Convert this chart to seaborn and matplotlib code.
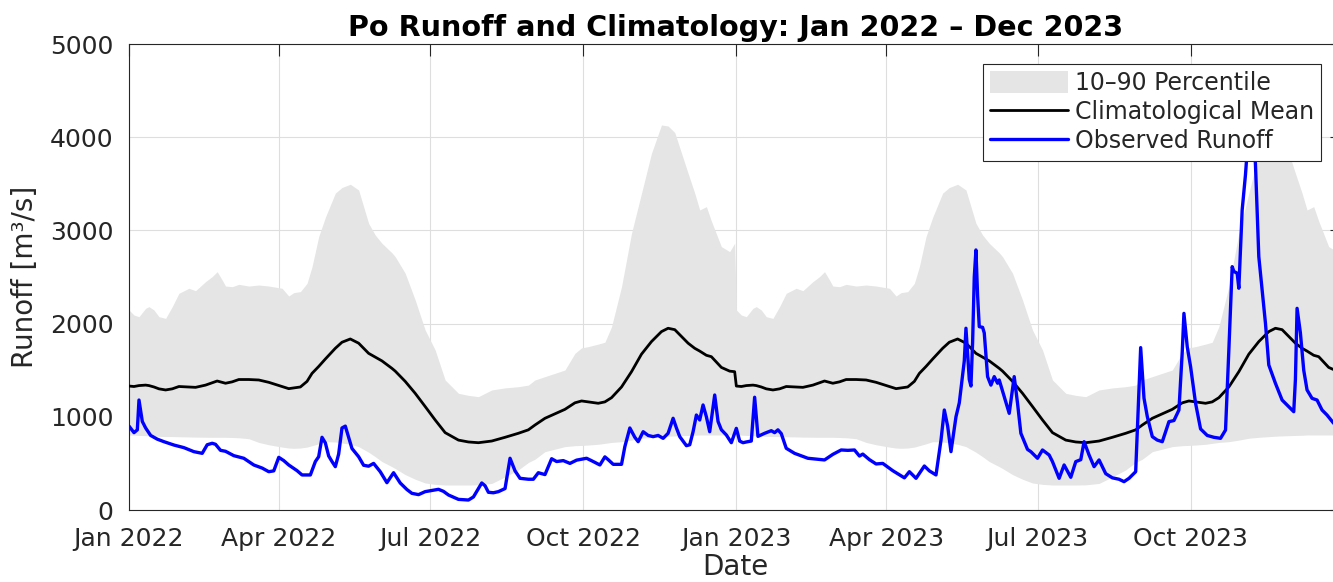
import numpy as np
import pandas as pd
import matplotlib
matplotlib.use("Agg")
import matplotlib.pyplot as plt
import matplotlib.dates as mdates
import seaborn as sns

# ---- climatology (day of year -> mean, 10th and 90th percentile), m^3/s ----
clim_doy = [0, 3, 6, 10, 12, 15, 18, 22, 26, 30, 36, 40, 46, 50, 53, 56, 58, 62, 66,
            72, 78, 84, 92, 96, 99, 103, 107, 110, 114, 118, 124, 128, 133, 138, 144,
            148, 152, 158, 160, 166, 172, 178, 184, 190, 198, 204, 210, 218, 226, 234,
            240, 244, 250, 262, 268, 272, 276, 282, 286, 290, 296, 302, 308, 314, 320,
            324, 328, 336, 340, 343, 347, 350, 356, 361, 364]
clim_mean = [1330, 1325, 1335, 1340, 1335, 1320, 1300, 1288, 1300, 1325, 1320, 1316, 1340,
             1365, 1384, 1370, 1360, 1375, 1400, 1400, 1395, 1370, 1325, 1302, 1310, 1320,
             1380, 1466, 1540, 1620, 1735, 1800, 1835, 1790, 1681, 1640, 1600, 1520, 1490,
             1380, 1252, 1110, 966, 830, 750, 730, 722, 740, 780, 823, 860, 912, 984, 1080,
             1150, 1170, 1160, 1145, 1160, 1205, 1320, 1484, 1672, 1807, 1914, 1950, 1935,
             1790, 1735, 1705, 1660, 1645, 1530, 1490, 1484]
clim_p10 = [805, 803, 800, 798, 797, 795, 790, 788, 788, 786, 784, 782, 781, 780, 780, 780,
            780, 778, 775, 765, 725, 700, 675, 665, 662, 665, 675, 690, 710, 733, 730, 720,
            705, 680, 620, 572, 520, 465, 445, 380, 330, 290, 275, 268, 268, 268, 270, 285,
            355, 430, 510, 545, 626, 680, 690, 693, 697, 705, 715, 725, 733, 750, 770, 780,
            787, 792, 795, 800, 802, 805, 805, 805, 805, 805, 805]
clim_p90 = [2146, 2092, 2074, 2164, 2182, 2146, 2074, 2056, 2182, 2325, 2379, 2353, 2450,
            2504, 2557, 2468, 2403, 2396, 2421, 2403, 2414, 2403, 2379, 2296, 2332, 2343,
            2432, 2611, 2933, 3140, 3400, 3460, 3495, 3434, 3076, 2950, 2862, 2760, 2718,
            2540, 2253, 1931, 1717, 1395, 1252, 1230, 1216, 1288, 1310, 1323, 1340, 1395,
            1431, 1502, 1681, 1740, 1753, 1780, 1800, 1967, 2396, 2969, 3398, 3827, 4131,
            4120, 4050, 3613, 3400, 3219, 3255, 3100, 2826, 2772, 2862]
clim_years = [2022, 2023]

# ---- observed runoff (days since 2022-01-01), m^3/s ----
obs_day = [0, 3, 5, 6, 8, 10, 13, 17, 21, 27, 33, 39, 44, 47, 50, 52, 55, 58, 63, 69, 75,
           80, 84, 87, 90, 93, 96, 101, 104, 109, 112, 114, 116, 118, 120, 122, 124, 126,
           128, 130, 132, 134, 138, 141, 144, 147, 151, 155, 159, 163, 167, 170, 174, 178,
           182, 186, 189, 192, 198, 204, 207, 210, 212, 214, 216, 219, 222, 226, 229, 232,
           235, 240, 243, 246, 250, 254, 257, 261, 265, 269, 275, 279, 283, 286, 288, 291,
           296, 298, 301, 304, 306, 309, 312, 315, 318, 321, 324, 327, 329, 331, 335, 337,
           339, 341, 343, 345, 347, 349, 352, 354, 356, 359, 362, 365, 367, 369, 371, 374,
           376, 378, 382, 386, 388, 390, 392, 395, 400, 408, 418, 423, 428, 432, 436, 439,
           441, 445, 449, 453, 459, 466, 469, 473, 478, 481, 485, 488, 490, 492, 494, 497,
           499, 502, 503, 505, 506, 507, 508, 509, 510, 511, 513, 514, 516, 518, 520, 522,
           523, 526, 529, 531, 532, 534, 536, 540, 542, 546, 549, 553, 555, 559, 562, 566,
           569, 572, 574, 577, 580, 583, 587, 591, 595, 598, 601, 605, 608, 610, 612, 615,
           618, 621, 625, 628, 631, 633, 634, 636, 638, 641, 644, 648, 652, 656, 659, 661,
           663, 664, 666, 667, 669, 671, 673, 675, 677, 679, 683, 685, 689, 693, 697, 700,
           701, 702, 704, 706, 708, 711, 714, 717, 720, 724, 729]
obs_val = [900, 830, 860, 1180, 950, 880, 800, 760, 733, 697, 669, 626, 608, 700, 716, 705,
           640, 630, 583, 555, 483, 450, 411, 420, 565, 530, 483, 422, 376, 376, 520, 572,
           780, 720, 580, 520, 465, 600, 880, 900, 780, 660, 572, 480, 470, 500, 411, 293,
           400, 290, 220, 179, 165, 197, 210, 222, 200, 161, 114, 107, 140, 230, 290, 260,
           190, 185, 197, 230, 555, 420, 340, 330, 330, 400, 380, 550, 520, 530, 500, 535,
           555, 520, 483, 570, 540, 490, 490, 680, 880, 780, 733, 840, 800, 787, 800, 769,
           823, 984, 880, 787, 690, 700, 840, 1019, 966, 1127, 1000, 840, 1234, 950, 861,
           805, 722, 876, 740, 722, 730, 740, 1210, 790, 823, 851, 830, 860, 820, 662, 608,
           555, 537, 597, 644, 640, 644, 579, 600, 540, 494, 500, 422, 345, 411, 340, 472,
           420, 376, 750, 1073, 900, 626, 1000, 1150, 1600, 1950, 1400, 1330, 1800, 2500,
           2790, 2300, 1967, 1960, 1900, 1431, 1340, 1431, 1360, 1395, 1216, 1037, 1300,
           1431, 1145, 823, 650, 626, 555, 644, 590, 519, 340, 483, 351, 519, 540, 733, 590,
           465, 537, 390, 345, 330, 304, 340, 411, 1742, 1200, 1001, 787, 750, 733, 948, 960,
           1073, 1700, 2110, 1750, 1538, 1145, 870, 800, 780, 769, 858, 1717, 2611, 2560,
           2540, 2379, 3219, 3600, 4100, 4400, 3700, 2718, 2003, 1556, 1359, 1180, 1109,
           1055, 1400, 2164, 1900, 1500, 1288, 1198, 1180, 1073, 1019, 930, 900]

tick_months = ["2022-01-01", "2022-04-01", "2022-07-01", "2022-10-01",
               "2023-01-01", "2023-04-01", "2023-07-01", "2023-10-01"]

# ---- assemble frames ----
clim_frames = []
for yr in clim_years:
    start = pd.Timestamp(f"{yr}-01-01")
    clim_frames.append(pd.DataFrame({
        "date": start + pd.to_timedelta(clim_doy, unit="D"),
        "mean": clim_mean, "p10": clim_p10, "p90": clim_p90}))
clim = pd.concat(clim_frames, ignore_index=True)

obs = pd.DataFrame({"date": pd.Timestamp("2022-01-01") + pd.to_timedelta(obs_day, unit="D"),
                    "runoff": obs_val})

# ---- style ----
sns.set_theme(style="white")
plt.rcParams["font.family"] = ["DejaVu Sans"]
dark = "#262626"
plt.rcParams.update({
    "axes.edgecolor": dark, "axes.linewidth": 0.8,
    "xtick.color": dark, "ytick.color": dark,
    "xtick.labelcolor": dark, "ytick.labelcolor": dark,
})

fig = plt.figure(figsize=(13.33, 5.82), dpi=100)
W, H = 1333, 582
ax = fig.add_axes([129 / W, 1 - 510 / H, (1342 - 129) / W, (510 - 44) / H])

ax.fill_between(clim["date"], clim["p10"], clim["p90"], color="#e5e5e5",
                linewidth=0, label="10\u201390 Percentile", zorder=1)
sns.lineplot(data=clim, x="date", y="mean", ax=ax, color="black", linewidth=2.0,
             estimator=None, sort=False, label="Climatological Mean", zorder=3)
sns.lineplot(data=obs, x="date", y="runoff", ax=ax, color="#0000ff", linewidth=2.4,
             estimator=None, sort=False, label="Observed Runoff", zorder=4)

ax.set_xlim(pd.Timestamp("2022-01-01"), pd.Timestamp("2023-12-31"))
ax.set_ylim(0, 5000)
ax.set_xticks(pd.to_datetime(tick_months))
ax.xaxis.set_major_formatter(mdates.DateFormatter("%b %Y"))
ax.set_yticks([0, 1000, 2000, 3000, 4000, 5000])

ax.grid(True, color="#dedede", linewidth=0.8)
ax.set_axisbelow(True)
ax.tick_params(direction="in", length=8.6, width=0.8, top=True, right=True,
               labelsize=18)
ax.tick_params(axis="x", pad=12)
ax.tick_params(axis="y", pad=11)
for s in ax.spines.values():
    s.set_visible(True)
    s.set_color(dark)

ax.set_title("Po Runoff and Climatology: Jan 2022 \u2013 Dec 2023",
             fontsize=20.6, fontweight="bold", color="black", pad=6)
ax.set_xlabel("Date", fontsize=20, color=dark, labelpad=2)
ax.set_ylabel("Runoff [m\u00b3/s]", fontsize=20, color=dark, labelpad=8)

handles, labels = ax.get_legend_handles_labels()
order = [labels.index(l) for l in ["10\u201390 Percentile", "Climatological Mean", "Observed Runoff"]]
leg = ax.legend([handles[i] for i in order], [labels[i] for i in order],
                loc="upper right", bbox_to_anchor=(1321 / W, 1 - 64 / H),
                bbox_transform=fig.transFigure, borderaxespad=0, fontsize=17,
                handlelength=3.3, handleheight=1.0, handletextpad=0.3,
                labelspacing=0.22, borderpad=0.3, fancybox=False, framealpha=1,
                edgecolor=dark)
leg.get_frame().set_linewidth(0.8)
leg.set_zorder(10)

fig.savefig("out.png", dpi=100)
